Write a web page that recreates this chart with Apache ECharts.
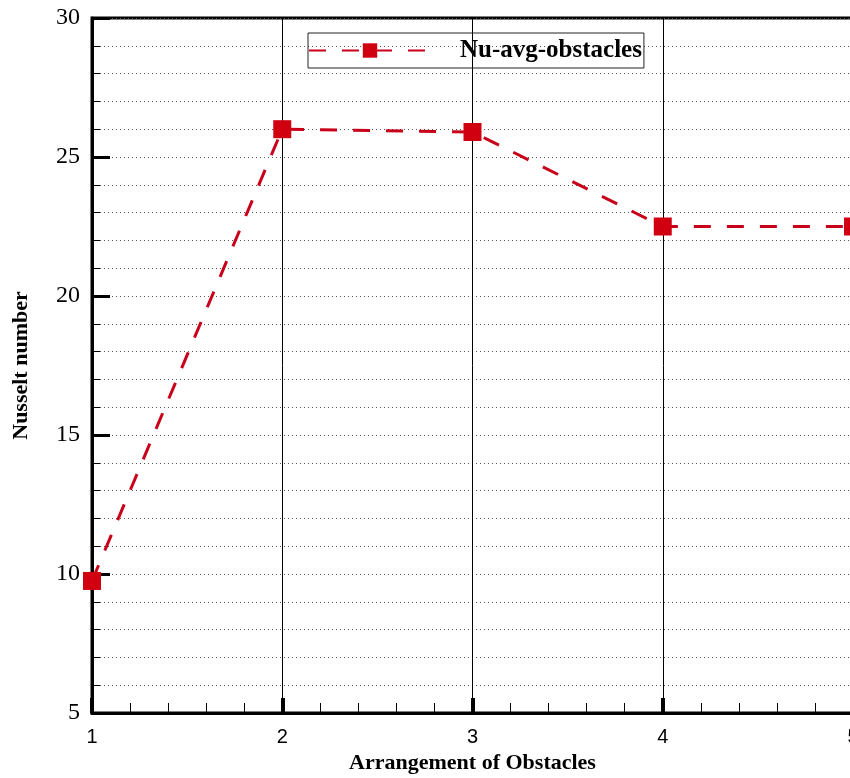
<!DOCTYPE html>
<html>
<head>
<meta charset="utf-8">
<script src="https://cdn.jsdelivr.net/npm/echarts@6/dist/echarts.min.js"></script>
<style>
  html, body { margin: 0; padding: 0; background: #fff; }
  #chart { width: 850px; height: 778px; }
</style>
</head>
<body>
<div id="chart"></div>
<script type="text/javascript">
    // arrangement number vs. average Nusselt number on obstacles
    var arrangement = [1, 2, 3, 4, 5];
    var nuAvg = [9.75, 26.0, 25.9, 22.5, 22.5];
    var seriesName = 'Nu-avg-obstacles';

    var points = [];
    for (var i = 0; i < arrangement.length; i++) {
        points.push([arrangement[i], nuAvg[i]]);
    }

    var myChart = echarts.init(document.getElementById('chart'));
    myChart.setOption({
        animation: false,
        grid: {
            left: 92, top: 18, right: -3, bottom: 65,
            outerBoundsMode: 'none', containLabel: false,
            show: true, borderColor: '#000', borderWidth: 3
        },
        legend: {
            top: 33, left: 308,
            itemWidth: 122, itemHeight: 18, itemGap: 0,
            padding: [5, 2, 5, 0],
            borderColor: '#222', borderWidth: 1,
            textStyle: { fontFamily: 'Liberation Serif', fontWeight: 'bold', fontSize: 25, color: '#000', padding: [0, 0, 0, 24] },
            data: [seriesName]
        },
        xAxis: {
            type: 'value', min: 1, max: 5, interval: 1,
            name: 'Arrangement of Obstacles', nameLocation: 'middle', nameGap: 37,
            nameTextStyle: { fontFamily: 'Liberation Serif', fontWeight: 'bold', fontSize: 22, color: '#000' },
            axisLine: { lineStyle: { color: '#000', width: 3 } },
            axisTick: { inside: true, length: 15, lineStyle: { color: '#000', width: 4 } },
            minorTick: { show: true, splitNumber: 5, length: 10, lineStyle: { color: '#000', width: 1 } },
            axisLabel: { fontFamily: 'Liberation Sans', fontSize: 20, color: '#000', margin: 14 },
            splitLine: { show: true, lineStyle: { color: '#000', width: 1 } }
        },
        yAxis: {
            type: 'value', min: 5, max: 30, interval: 5,
            name: 'Nusselt number', nameLocation: 'middle', nameGap: 60,
            nameTextStyle: { fontFamily: 'Liberation Serif', fontWeight: 'bold', fontSize: 22, color: '#000' },
            axisLine: { show: true, lineStyle: { color: '#000', width: 3 } },
            axisTick: { inside: true, length: 18, lineStyle: { color: '#000', width: 3 } },
            minorTick: { show: true, splitNumber: 5, length: 8, lineStyle: { color: '#000', width: 1 } },
            axisLabel: { fontFamily: 'Liberation Serif', fontSize: 24, color: '#000', margin: 12 },
            splitLine: { show: true, lineStyle: { color: '#555', width: 1, type: [1, 3] } },
            minorSplitLine: { show: true, lineStyle: { color: '#555', width: 1, type: [1, 3] } }
        },
        series: [{
            name: seriesName,
            type: 'line',
            data: points,
            symbol: 'rect',
            symbolSize: 18,
            itemStyle: { color: '#d00010' },
            lineStyle: { color: '#c8001a', width: 3, type: [17, 16] },
            clip: false
        }]
    });
</script>
</body>
</html>
